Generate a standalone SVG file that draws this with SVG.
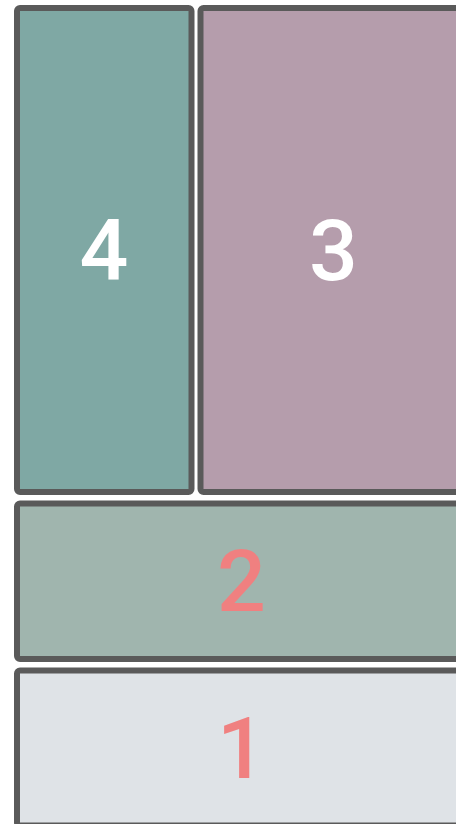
<svg xmlns="http://www.w3.org/2000/svg" width="456" height="824" viewBox="0 0 456 824">
<style>
.box{stroke:#5a5a5a;stroke-width:6}
.lbl{font-family:Roboto,"Liberation Sans",sans-serif;font-size:86px;font-weight:500;text-anchor:middle}
.w{fill:#ffffff}
.r{fill:#f08080}
</style>
<rect width="456" height="824" fill="#ffffff"/>
<g id="node4">
<rect class="box" x="17" y="8" width="174.5" height="484" rx="3" fill="#7fa8a4"/>
<text class="lbl w" x="104" y="280">4</text>
</g>
<g id="node3">
<rect class="box" x="200.5" y="8" width="266" height="484" rx="3" fill="#b59dac"/>
<text class="lbl w" x="333.5" y="280">3</text>
</g>
<g id="node2">
<rect class="box" x="17" y="503.5" width="449.5" height="155.5" rx="3" fill="#a0b5ae"/>
<text class="lbl r" x="241.5" y="611">2</text>
</g>
<g id="node1">
<rect class="box" x="17" y="670.5" width="449.5" height="155" rx="3" fill="#dfe3e7"/>
<text class="lbl r" x="241.5" y="778">1</text>
</g>
<g id="connectors"></g>
</svg>
